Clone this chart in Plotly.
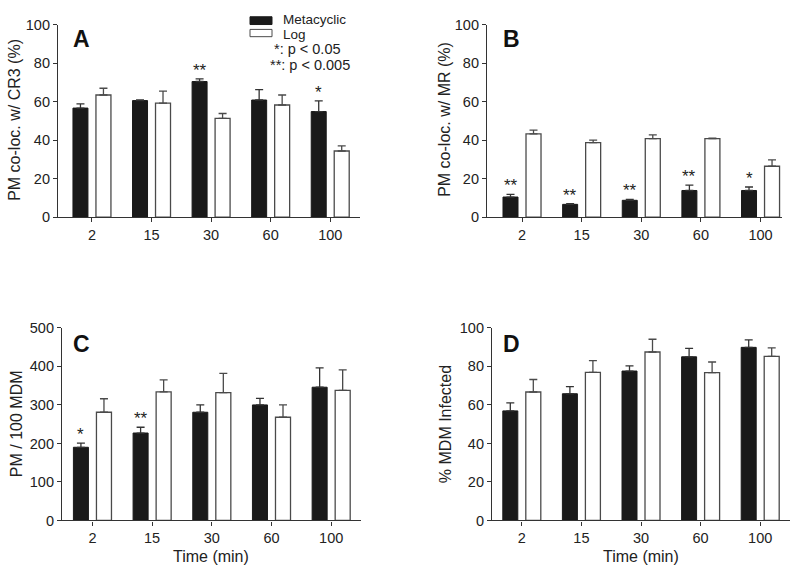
import plotly.graph_objects as go

times = ["2", "15", "30", "60", "100"]
series_names = ["Metacyclic", "Log"]

A_meta = [56.6, 60.5, 70.4, 60.8, 54.8]
A_meta_err = [2.2, 0.4, 1.4, 5.4, 5.5]
A_log = [63.4, 59.2, 51.3, 58.2, 34.3]
A_log_err = [3.5, 6.2, 2.5, 5.2, 2.7]
A_sig = ["", "", "**", "", "*"]

B_meta = [10.4, 6.6, 8.7, 13.8, 13.8]
B_meta_err = [1.4, 0.4, 0.5, 2.8, 1.8]
B_log = [43.2, 38.7, 40.7, 40.7, 26.4]
B_log_err = [2.0, 1.3, 2.0, 0.3, 3.3]
B_sig = ["**", "**", "**", "**", "*"]

C_meta = [190, 227, 281, 300, 346]
C_meta_err = [11, 15, 19, 17, 50]
C_log = [281, 334, 332, 268, 338]
C_log_err = [35, 31, 50, 32, 53]
C_sig = ["*", "**", "", "", ""]

D_meta = [56.9, 65.8, 77.6, 85.0, 89.9]
D_meta_err = [4.2, 3.7, 2.7, 4.4, 3.9]
D_log = [66.7, 76.9, 87.5, 76.8, 85.2]
D_log_err = [6.5, 6.1, 6.6, 5.5, 4.4]
D_sig = ["", "", "", "", ""]

y_titles = ["PM co-loc. w/ CR3 (%)", "PM co-loc. w/ MR (%)", "PM / 100 MDM", "% MDM Infected"]
panel_labels = ["A", "B", "C", "D"]
x_title = "Time (min)"
legend_notes = ["*: p < 0.05", "**: p < 0.005"]

W, H = 800, 579
FONT = "Liberation Sans, Arial, sans-serif"
TXT = "#222222"
AX = "#333333"

panels = [
    dict(meta=A_meta, me=A_meta_err, log=A_log, le=A_log_err, sig=A_sig,
         px=(58, 360), py=(17, 215), xr=[-0.57, 4.5], yr=[0, 100], dt=20,
         ytx=15, yty=115, lab=(81, 32)),
    dict(meta=B_meta, me=B_meta_err, log=B_log, le=B_log_err, sig=B_sig,
         px=(487, 782), py=(17, 215), xr=[-0.587, 4.36], yr=[0, 100], dt=20,
         ytx=445, yty=115, lab=(511, 32)),
    dict(meta=C_meta, me=C_meta_err, log=C_log, le=C_log_err, sig=C_sig,
         px=(62, 361), py=(329, 527), xr=[-0.51, 4.5], yr=[0, 500], dt=100,
         ytx=16, yty=428, lab=(81, 346)),
    dict(meta=D_meta, me=D_meta_err, log=D_log, le=D_log_err, sig=D_sig,
         px=(492, 790), py=(329, 527), xr=[-0.50, 4.5], yr=[0, 100], dt=20,
         ytx=445, yty=428, lab=(511, 346)),
]

fig = go.Figure()
annotations = []
shapes = []

for i, p in enumerate(panels):
    n = "" if i == 0 else str(i + 1)
    xa, ya = "x" + n, "y" + n
    fig.add_trace(go.Bar(
        x=times, y=p["meta"], name=series_names[0], xaxis=xa, yaxis=ya,
        marker=dict(color="#1a1a1a", line=dict(color="#1a1a1a", width=1)),
        error_y=dict(type="data", array=p["me"], arrayminus=[0] * 5, symmetric=False,
                     color="#333333", thickness=1.3, width=4),
        showlegend=False))
    fig.add_trace(go.Bar(
        x=times, y=p["log"], name=series_names[1], xaxis=xa, yaxis=ya,
        marker=dict(color="white", line=dict(color="#4a4a4a", width=1.3)),
        error_y=dict(type="data", array=p["le"], arrayminus=[0] * 5, symmetric=False,
                     color="#4a4a4a", thickness=1.3, width=4),
        showlegend=False))

    xd = [p["px"][0] / W, p["px"][1] / W]
    yd = [1 - p["py"][1] / H, 1 - p["py"][0] / H]
    axis_common = dict(showline=True, linecolor=AX, linewidth=1.2, ticks="outside",
                       ticklen=4, tickcolor=AX, tickwidth=1, showgrid=False, zeroline=False,
                       tickfont=dict(family=FONT, size=14.5, color=TXT))
    fig.layout["xaxis" + n] = dict(domain=xd, anchor=ya, type="category",
                                   range=p["xr"], **axis_common)
    fig.layout["yaxis" + n] = dict(domain=yd, anchor=xa, range=p["yr"], dtick=p["dt"],
                                   **axis_common)

    # significance stars above metacyclic bars (x given as category index)
    for j, (v, e, s) in enumerate(zip(p["meta"], p["me"], p["sig"])):
        if s:
            annotations.append(dict(x=j, y=v + e, xref=xa, yref=ya, text=s, showarrow=False,
                                    xshift=-11.5, yshift=-2, yanchor="bottom", borderpad=0,
                                    font=dict(family=FONT, size=17, color=TXT)))
    # y title
    annotations.append(dict(x=p["ytx"] / W, y=1 - p["yty"] / H, xref="paper", yref="paper",
                            text=y_titles[i], textangle=-90, showarrow=False,
                            xanchor="center", yanchor="middle",
                            font=dict(family=FONT, size=16, color=TXT)))
    # panel label
    annotations.append(dict(x=p["lab"][0] / W, y=1 - p["lab"][1] / H, xref="paper", yref="paper",
                            text="<b>" + panel_labels[i] + "</b>", showarrow=False,
                            xanchor="center", yanchor="middle",
                            font=dict(family=FONT, size=23, color="#111111")))

# x titles for bottom panels
for cx in (211, 641):
    annotations.append(dict(x=cx / W, y=1 - 564 / H, xref="paper", yref="paper",
                            text=x_title, showarrow=False, xanchor="center", yanchor="middle",
                            font=dict(family=FONT, size=16, color=TXT)))

# manual legend
shapes.append(dict(type="rect", xref="paper", yref="paper",
                   x0=250 / W, x1=272 / W, y0=1 - 17 / H, y1=1 - 9 / H,
                   fillcolor="#1a1a1a", line=dict(color="#1a1a1a", width=1)))
shapes.append(dict(type="rect", xref="paper", yref="paper",
                   x0=250 / W, x1=272 / W, y0=1 - 29.5 / H, y1=1 - 22 / H,
                   fillcolor="white", line=dict(color="#4a4a4a", width=1)))
legend_text = [
    (series_names[0], 282, 11.5, "left", 13.5),
    (series_names[1], 282, 27, "left", 13.5),
    (legend_notes[0], 342, 42, "right", 14.5),
    (legend_notes[1], 351, 59, "right", 14.5),
]
for txt, lx, ly, anc, fs in legend_text:
    annotations.append(dict(x=lx / W, y=1 - ly / H, xref="paper", yref="paper",
                            text=txt, showarrow=False, xanchor=anc, yanchor="middle",
                            borderpad=0, font=dict(family=FONT, size=fs, color=TXT)))

fig.update_layout(
    width=W, height=H, margin=dict(l=0, r=0, t=0, b=0),
    paper_bgcolor="white", plot_bgcolor="white",
    barmode="group", bargap=0.228, bargroupgap=0.348,
    annotations=annotations, shapes=shapes,
    font=dict(family=FONT, color=TXT),
)

fig.write_html("out.html", config={"responsive": False, "displayModeBar": False},
               post_script="document.body.style.margin='0';document.body.style.overflow='hidden';")
